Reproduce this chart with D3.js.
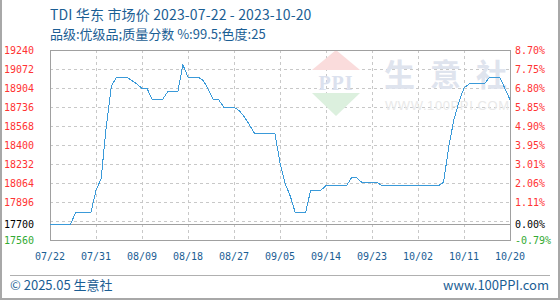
<!DOCTYPE html>
<html>
<head>
<meta charset="utf-8">
<script src="https://cdn.jsdelivr.net/npm/d3@7"></script>
<style>
body { margin: 0; background: #fff; }
</style>
</head>
<body>
<div id="chart"></div>
<script>
// 数据
var startDate = "2023-07-22";
var endDate = "2023-10-20";
var prices = [
    17700, 17700, 17700, 17700, 17700, 17800, 17800, 17800, 17800, 18000,
    18100, 18560, 18920, 19000, 19000, 19000, 18970, 18940, 18900, 18900,
    18800, 18800, 18800, 18870, 18870, 18870, 19110, 19000, 19000, 19000,
    18970, 18890, 18800, 18800, 18735, 18735, 18735, 18705, 18650, 18580,
    18505, 18505, 18505, 18505, 18505, 18240, 18060, 17950, 17800, 17800,
    17800, 18000, 18000, 18000, 18040, 18040, 18040, 18040, 18040, 18110,
    18110, 18070, 18070, 18070, 18070, 18040, 18040, 18040, 18040, 18040,
    18040, 18040, 18040, 18040, 18040, 18040, 18040, 18070, 18380, 18620,
    18780, 18905, 18940, 18940, 18940, 18940, 19000, 19000, 19000, 18900,
    18800
];
var xTickLabels = ["07/22", "07/31", "08/09", "08/18", "08/27", "09/05", "09/14", "09/23", "10/02", "10/11", "10/20"];
var yTickValues = [19240, 19072, 18904, 18736, 18568, 18400, 18232, 18064, 17896];
var yGridValues = [19072, 18904, 18736, 18568, 18400, 18232, 18064, 17896, 17728];
var basePrice = 17700;
var minPrice = 17560;
var maxPrice = 19240;

var title = "TDI 华东 市场价 2023-07-22 - 2023-10-20";
var subtitle = "品级:优级品;质量分数 %:99.5;色度:25";
var watermark = ["生", "意", "社"];

var width = 560, height = 300;
var plotLeft = 50, plotRight = 510, plotTop = 50, plotBottom = 240;
var textColor = "#1b5e94";
var cjk = "'Noto Sans CJK SC', 'Noto Sans', sans-serif";
var mono = "'DejaVu Sans Mono', 'Liberation Mono', monospace";

var svg = d3.select("#chart").append("svg")
    .attr("width", width)
    .attr("height", height);

var parse = d3.timeParse("%Y-%m-%d");
var t0 = parse(startDate);
var x = d3.scaleTime().domain([t0, parse(endDate)]).range([plotLeft, plotRight]);
var y = d3.scaleLinear().domain([minPrice, maxPrice]).range([plotBottom, plotTop]);

var data = prices.map(function(v, i) { return { date: d3.timeDay.offset(t0, i), value: v }; });
var tickDates = xTickLabels.map(function(d, i) { return d3.timeDay.offset(t0, i * 9); });

// 外框
svg.append("path")
    .attr("d", "M1,0V299H559V0")
    .attr("fill", "none")
    .attr("stroke", "#a8a8a8")
    .attr("stroke-width", 2);

// 标题
svg.append("text").attr("x", 50).attr("y", 20)
    .attr("font-family", cjk).attr("font-size", 14).attr("fill", textColor)
    .attr("letter-spacing", 0.15)
    .text(title);
svg.append("text").attr("x", 50).attr("y", 39)
    .attr("font-family", cjk).attr("font-size", 13).attr("fill", textColor)
    .text(subtitle);

// 网格
svg.append("g").selectAll("line")
    .data(yGridValues).enter().append("line")
    .attr("x1", plotLeft).attr("x2", plotRight)
    .attr("y1", function(d) { return Math.round(y(d)) + 0.5; })
    .attr("y2", function(d) { return Math.round(y(d)) + 0.5; })
    .attr("stroke", "#c8c8c8").attr("stroke-dasharray", "3,3");
svg.append("g").selectAll("line")
    .data(tickDates.slice(1, -1)).enter().append("line")
    .attr("x1", function(d) { return Math.round(x(d)) + 0.5; })
    .attr("x2", function(d) { return Math.round(x(d)) + 0.5; })
    .attr("y1", plotTop).attr("y2", plotBottom)
    .attr("stroke", "#c8c8c8").attr("stroke-dasharray", "3,3");

// 水印
var wm = svg.append("g");
wm.append("polygon").attr("points", "312,70 360,70 336,50").attr("fill", "#fadcdc");
wm.append("text").attr("x", 336).attr("y", 90).attr("text-anchor", "middle")
    .attr("font-family", "'Liberation Serif', serif").attr("font-weight", "bold")
    .attr("font-size", 20).attr("letter-spacing", 1).attr("fill", "#dbe1ee").text("PPI");
wm.append("polygon").attr("points", "312,93 360,93 336,116").attr("fill", "#dcf0de");
wm.selectAll("text.wmc")
    .data(watermark).enter().append("text")
    .attr("class", "wmc")
    .attr("x", function(d, i) { return 384 + i * 46; }).attr("y", 86)
    .attr("font-family", cjk).attr("font-weight", "bold")
    .attr("font-size", 31).attr("fill", "#dfe4ee")
    .text(function(d) { return d; });
wm.append("text").attr("x", 385).attr("y", 110)
    .attr("font-family", "'Liberation Sans', sans-serif")
    .attr("font-size", 13).attr("letter-spacing", 0.6).attr("fill", "#e9e9e9").text("WWW.100PPI.COM");

// 边框
svg.append("rect")
    .attr("x", plotLeft + 0.5).attr("y", plotTop + 0.5)
    .attr("width", plotRight - plotLeft).attr("height", plotBottom - plotTop)
    .attr("fill", "none").attr("stroke", "#a0a0a0");
svg.append("line")
    .attr("x1", plotLeft).attr("x2", plotRight)
    .attr("y1", Math.round(y(basePrice)) + 0.5).attr("y2", Math.round(y(basePrice)) + 0.5)
    .attr("stroke", "#a0a0a0");

// 价格线
var line = d3.line()
    .x(function(d) { return x(d.date); })
    .y(function(d) { return y(d.value); });
svg.append("path")
    .datum(data)
    .attr("d", line)
    .attr("fill", "none")
    .attr("stroke", "#3a9ad9")
    .attr("stroke-width", 1)
    .attr("shape-rendering", "crispEdges");

// 坐标轴标签
function pct(v) { return ((v - basePrice) / basePrice * 100).toFixed(2) + "%"; }
var yLabels = yTickValues.map(function(v) { return { v: v, c: "#ff3333" }; })
    .concat([{ v: basePrice, c: "#000" }, { v: minPrice, c: "#33aa33" }]);

svg.append("g").selectAll("text")
    .data(yLabels).enter().append("text")
    .attr("x", 34).attr("y", function(d) { return y(d.v); })
    .attr("dy", "0.35em").attr("text-anchor", "end")
    .attr("font-family", mono).attr("font-size", 10)
    .attr("fill", function(d) { return d.c; })
    .text(function(d) { return d.v; });
svg.append("g").selectAll("text")
    .data(yLabels).enter().append("text")
    .attr("x", 515).attr("y", function(d) { return y(d.v); })
    .attr("dy", "0.35em")
    .attr("font-family", mono).attr("font-size", 10)
    .attr("fill", function(d) { return d.c; })
    .text(function(d) { return pct(d.v); });

svg.append("g").selectAll("text")
    .data(tickDates).enter().append("text")
    .attr("x", function(d) { return x(d); }).attr("y", 260)
    .attr("text-anchor", "middle")
    .attr("font-family", mono).attr("font-size", 10)
    .attr("fill", textColor)
    .text(function(d, i) { return xTickLabels[i]; });

// 页脚
svg.append("line").attr("x1", 10).attr("x2", 550).attr("y1", 275.5).attr("y2", 275.5)
    .attr("stroke", "#b0b0b0");
svg.append("text").attr("x", 10).attr("y", 290)
    .attr("font-family", cjk).attr("font-size", 13).attr("fill", textColor)
    .text("© 2025.05 生意社");
svg.append("text").attr("x", 549).attr("y", 290).attr("text-anchor", "end")
    .attr("font-family", cjk).attr("font-size", 13).attr("fill", textColor)
    .text("www.100PPI.com");
</script>
</body>
</html>
